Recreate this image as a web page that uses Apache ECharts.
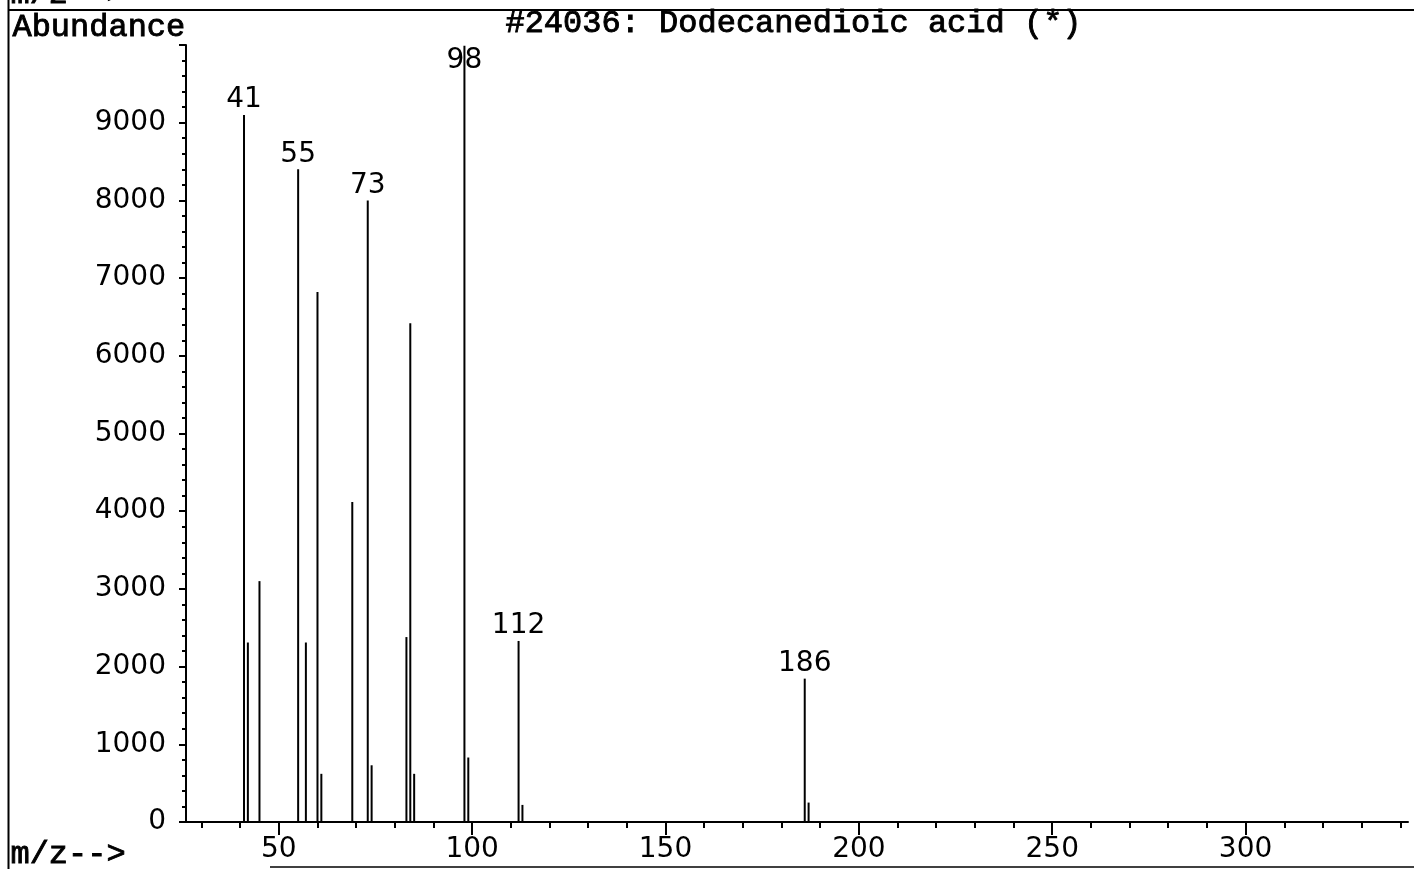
<!DOCTYPE html>
<html>
<head>
<meta charset="utf-8">
<script src="https://cdn.jsdelivr.net/npm/echarts@6/dist/echarts.min.js"></script>
<style>
  html, body { margin: 0; padding: 0; background: #fff; }
  #chart { width: 1414px; height: 869px; }
</style>
</head>
<body>
<div id="chart"></div>
<script>
// Library spectrum #24036 (Dodecanedioic acid): m/z and abundance of each ion
const mz =        [41,   42,   45,   55,   57,   60,   61,  69,   73,   74,  83,   84,   85,  98,   99,  112,  113, 186,  187];
const abundance = [9100, 2310, 3100, 8400, 2310, 6820, 620, 4120, 8000, 730, 2380, 6420, 620, 9990, 830, 2330, 220, 1845, 250];

// ions whose m/z is printed above the line
const labelledIons = [41, 55, 73, 98, 112, 186];

// axis ticks
const xMajorTicks = [50, 100, 150, 200, 250, 300];
const xMinorTicks = [30, 40, 60, 70, 80, 90, 110, 120, 130, 140, 160, 170, 180, 190,
                     210, 220, 230, 240, 260, 270, 280, 290, 310, 320, 330, 340];
const yTickLabels = [0, 1000, 2000, 3000, 4000, 5000, 6000, 7000, 8000, 9000];

const monoFont = '"Liberation Mono", "DejaVu Sans Mono", monospace';
const numFont = '"DejaVu Sans", sans-serif';
const numSize = 28;

// typewriter-style caption text, slightly thickened with a thin outline
const caption = (text, left, top) => ({
  type: 'text', left, top,
  style: { text, font: '32px ' + monoFont, fill: '#000', stroke: '#000', lineWidth: 0.9 }
});

const chart = echarts.init(document.getElementById('chart'), null, { renderer: 'canvas' });

const peakData = mz.map((m, i) => {
  const item = { value: [m, abundance[i]] };
  if (labelledIons.includes(m)) {
    item.label = m === 98
      ? { show: true, position: 'insideTop', distance: 1, color: '#000' }
      : { show: true, position: 'top', distance: 1, color: '#000' };
  }
  return item;
});

chart.setOption({
  animation: false,
  backgroundColor: '#fff',
  grid: { left: 186, right: 6, top: 45, bottom: 47, containLabel: false },
  xAxis: [
    {
      type: 'value',
      min: 26,
      max: 342,
      position: 'bottom',
      splitLine: { show: false },
      axisLine: { show: true, lineStyle: { color: '#000', width: 2 } },
      axisTick: { show: true, inside: false, length: 13, customValues: xMajorTicks,
                  lineStyle: { color: '#000', width: 2 } },
      axisLabel: { show: true, customValues: xMajorTicks, margin: 14,
                   formatter: v => String(v),
                   color: '#000', fontFamily: numFont, fontSize: numSize }
    },
    {
      type: 'value',
      min: 26,
      max: 342,
      position: 'bottom',
      splitLine: { show: false },
      axisLine: { show: false },
      axisTick: { show: true, inside: false, length: 6, customValues: xMinorTicks,
                  lineStyle: { color: '#000', width: 2 } },
      axisLabel: { show: false }
    }
  ],
  yAxis: {
    type: 'value',
    min: 0,
    max: 10000,
    interval: 1000,
    splitLine: { show: false },
    axisLine: { show: true, lineStyle: { color: '#000', width: 2 } },
    axisTick: { show: true, inside: false, length: 7, lineStyle: { color: '#000', width: 2 } },
    minorTick: { show: true, splitNumber: 5, length: 4, lineStyle: { color: '#000', width: 2 } },
    axisLabel: { show: true, customValues: yTickLabels, margin: 20,
                 formatter: v => String(v),
                 color: '#000', fontFamily: numFont, fontSize: numSize }
  },
  series: [
    {
      type: 'bar',
      xAxisIndex: 0,
      yAxisIndex: 0,
      barWidth: 2,
      itemStyle: { color: '#000' },
      label: {
        show: false,
        fontFamily: numFont,
        fontSize: numSize,
        color: '#000',
        formatter: p => String(p.value[0])
      },
      data: peakData
    }
  ],
  graphic: [
    // page frame
    { type: 'line', shape: { x1: 8.5, y1: 0, x2: 8.5, y2: 869 }, style: { stroke: '#000', lineWidth: 2 } },
    { type: 'line', shape: { x1: 8, y1: 10, x2: 1414, y2: 10 }, style: { stroke: '#000', lineWidth: 2 } },
    { type: 'line', shape: { x1: 270, y1: 867, x2: 1414, y2: 867 }, style: { stroke: '#000', lineWidth: 1.5 } },
    // header line above the frame, cut off by the page edge
    caption('m/z-->', 10, -22),
    // axis captions and spectrum title
    caption('Abundance', 12, 11),
    caption('#24036: Dodecanedioic acid (*)', 505, 7),
    caption('m/z-->', 10, 838)
  ]
});
</script>
</body>
</html>
